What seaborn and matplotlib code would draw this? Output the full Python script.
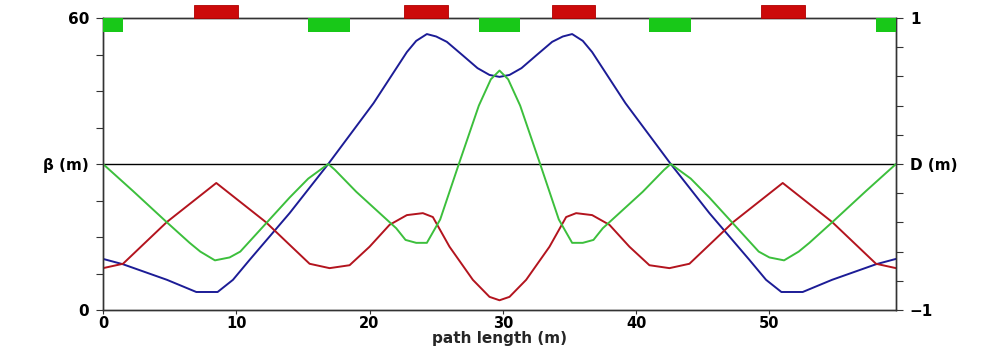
import numpy as np
import pandas as pd
import matplotlib
matplotlib.use("Agg")
import matplotlib.pyplot as plt
import seaborn as sns

# Horizontal beta function along the cell (path length in m, beta in m)
s_bx = [0.0, 1.5, 4.8, 7.0, 8.6, 9.75, 11.0, 14.0, 16.9, 20.3, 22.8, 23.5, 24.3,
        25.0, 25.8, 27.0, 28.1, 29.0, 29.75, 30.5, 31.4, 32.5, 33.7, 34.5, 35.2,
        36.0, 36.7, 39.2, 42.6, 45.5, 48.5, 49.75, 50.9, 52.5, 54.7, 58.0, 59.5]
beta_x = [10.5, 9.4, 6.2, 3.7, 3.7, 6.2, 10.3, 19.9, 30.0, 42.5, 53.0, 55.3, 56.7,
          56.2, 55.1, 52.3, 49.7, 48.3, 47.9, 48.3, 49.7, 52.3, 55.1, 56.2, 56.7,
          55.3, 53.0, 42.5, 30.0, 19.9, 10.3, 6.2, 3.7, 3.7, 6.2, 9.4, 10.5]

# Vertical beta function
s_by = [0.0, 1.5, 4.8, 8.5, 12.2, 14.0, 15.5, 17.0, 18.5, 20.0, 21.5, 22.8, 24.0,
        24.75, 26.0, 27.75, 29.0, 29.75, 30.5, 31.75, 33.5, 34.75, 35.5, 36.7,
        38.0, 39.5, 41.0, 42.5, 44.0, 45.5, 47.3, 51.0, 54.7, 58.0, 59.5]
beta_y = [8.6, 9.5, 18.1, 26.1, 18.1, 13.4, 9.5, 8.6, 9.2, 13.0, 17.5, 19.5, 19.9,
          19.1, 13.0, 6.2, 2.7, 2.0, 2.7, 6.2, 13.0, 19.1, 19.9, 19.5,
          17.5, 13.0, 9.2, 8.6, 9.5, 13.4, 18.1, 26.1, 18.1, 9.5, 8.6]

# Dispersion (right axis, m)
s_d = [0.0, 2.25, 4.8, 6.5, 7.3, 8.4, 9.5, 10.3, 12.5, 14.0, 15.4, 16.9, 17.4,
       19.0, 22.0, 22.7, 23.5, 24.3, 25.3, 26.7, 28.2, 29.1, 29.75, 30.4, 31.3,
       32.8, 34.2, 35.2, 36.0, 36.8, 37.5, 40.5, 42.1, 42.6, 44.1, 45.5, 47.0,
       49.2, 50.0, 51.1, 52.2, 53.0, 54.7, 57.25, 59.5]
disp = [0.0, -0.185, -0.40, -0.54, -0.60, -0.66, -0.64, -0.60, -0.38, -0.23, -0.10,
        0.0, -0.04, -0.19, -0.44, -0.52, -0.54, -0.54, -0.38, 0.0, 0.40, 0.58, 0.64,
        0.58, 0.40, 0.0, -0.38, -0.54, -0.54, -0.52, -0.44, -0.19, -0.04, 0.0,
        -0.10, -0.23, -0.38, -0.60, -0.64, -0.66, -0.60, -0.54, -0.40, -0.185, 0.0]

# Lattice elements: dipoles and quadrupoles (start, end in m)
dipole_start = [6.8, 22.6, 33.7, 49.4]
dipole_end = [10.1, 25.9, 36.9, 52.7]
quad_start = [0.0, 15.4, 28.2, 41.0, 58.0]
quad_end = [1.5, 18.5, 31.3, 44.1, 59.5]

x_ticks = [0, 10, 20, 30, 40, 50]

sns.set_style("ticks")
plt.rcParams["font.family"] = ["DejaVu Sans"]
plt.rcParams["font.weight"] = "bold"

W, H = 986, 346
fig = plt.figure(figsize=(W / 100, H / 100), dpi=100)
ax = fig.add_axes([103 / W, 1 - 310 / H, (896 - 103) / W, (310 - 18) / H])
ax2 = ax.twinx()

blue = "#1c1c96"
red = "#b3141e"
green = "#3cbf3c"

ax.axhline(30, color="black", lw=1.0, zorder=1)

sns.lineplot(data=pd.DataFrame({"s": s_bx, "beta": beta_x}), x="s", y="beta",
             ax=ax, color=blue, lw=1.4, estimator=None, sort=False, zorder=3)
sns.lineplot(data=pd.DataFrame({"s": s_by, "beta": beta_y}), x="s", y="beta",
             ax=ax, color=red, lw=1.4, estimator=None, sort=False, zorder=3)
sns.lineplot(data=pd.DataFrame({"s": s_d, "D": disp}), x="s", y="D",
             ax=ax2, color=green, lw=1.4, estimator=None, sort=False, zorder=2)

ax.set_xlim(0, 59.5)
ax.set_ylim(0, 60)
ax2.set_ylim(-1, 1)

# Lattice bars along the top edge: dipoles above it, quadrupoles below it
d_c = [(a + b) / 2 for a, b in zip(dipole_start, dipole_end)]
d_w = [b - a for a, b in zip(dipole_start, dipole_end)]
q_c = [(a + b) / 2 for a, b in zip(quad_start, quad_end)]
q_w = [b - a for a, b in zip(quad_start, quad_end)]
ax2.bar(d_c, 0.089, width=d_w, bottom=1.0, color="#cc0a0a", edgecolor="#b00000",
        lw=0.6, clip_on=False, zorder=5)
ax2.bar(q_c, -0.096, width=q_w, bottom=1.0, color="#18c818", edgecolor="none",
        clip_on=False, zorder=5)

# Left axis: beta
ax.set_yticks(np.linspace(0, 60, 9))
ax.set_yticklabels(["0", "", "", "", "\u03b2 (m)", "", "", "", "60"])
# Right axis: dispersion
ax2.set_yticks(np.linspace(-1, 1, 11))
ax2.set_yticklabels(["\u22121", "", "", "", "", "D (m)", "", "", "", "", "1"])

ax.set_xticks(x_ticks)
ax.set_xticklabels([str(v) for v in x_ticks])
ax.set_xlabel("path length (m)", fontsize=11, fontweight="bold", labelpad=0)
ax.set_ylabel("")
ax2.set_ylabel("")

for a in (ax, ax2):
    for sp in a.spines.values():
        sp.set_color("#333333")
        sp.set_linewidth(1.0)
ax.tick_params(axis="y", direction="out", length=5, width=0.8, pad=5,
               labelsize=11, colors="#333333", labelcolor="black")
ax2.tick_params(axis="y", direction="out", length=5, width=0.8, pad=5,
                labelsize=11, colors="#333333", labelcolor="black")
ax.tick_params(axis="x", direction="out", length=3, width=0.8, pad=1,
               labelsize=10.5, colors="#333333", labelcolor="black")

fig.savefig("out.png", dpi=100)
